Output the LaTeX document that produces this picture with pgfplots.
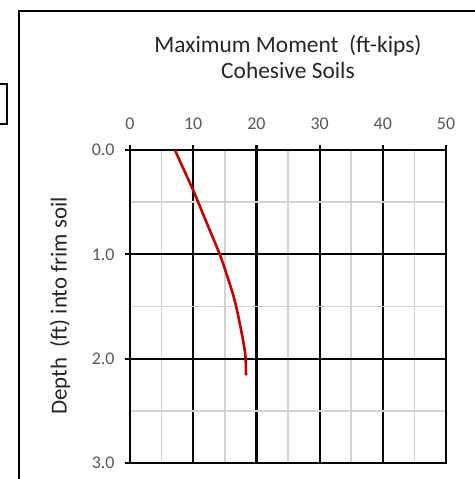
\documentclass[border=0pt]{standalone}
\usepackage{pgfplots}
\pgfplotsset{compat=1.18}
\usepackage{fontspec}
\setmainfont{Carlito}
\definecolor{momentred}{RGB}{192,0,0}
\definecolor{ticktext}{RGB}{89,89,89}
\definecolor{minorgrid}{RGB}{210,210,210}

\begin{document}
\begin{tikzpicture}
\clip (0,0) rectangle (475bp,479bp);
% chart frame (cropped) and leftover box at far left
\draw[line width=2bp] (19bp,-20bp) |- (520bp,468bp);
\draw[line width=2.5bp] (-10bp,355bp) rectangle (7bp,395bp);

\node[align=center, font=\fontsize{23.5}{27}\selectfont, text=black!85]
  at (288bp,422bp) {Maximum Moment\ \ (ft-kips)\\Cohesive Soils};
\node[rotate=90, font=\fontsize{23}{27}\selectfont, text=black!85]
  at (60bp,173bp) {Depth\ \ (ft) into frim soil};

\begin{axis}[
    at={(130bp,16bp)}, anchor=south west,
    scale only axis, width=316bp, height=313bp,
    xmin=0, xmax=50, ymin=0, ymax=3,
    y dir=reverse,
    xtick={0,10,...,50}, minor xtick={5,15,...,45},
    ytick={0,1,2,3}, minor ytick={0.5,1.5,2.5},
    xtick pos=right, ytick pos=left,
    xticklabel pos=right,
    tick align=outside,
    major tick length=5bp, minor tick length=0pt,
    major tick style={line width=2.2bp, black},
    grid=both,
    major grid style={line width=2.2bp, black},
    minor grid style={line width=1.5bp, minorgrid},
    axis line style={line width=2.2bp, black},
    ticklabel style={font=\fontsize{18}{20}\selectfont, text=ticktext},
    /pgf/number format/assume math mode=true,
    xticklabel shift=12bp, yticklabel shift=7bp,
    yticklabel={\pgfmathprintnumber[fixed, fixed zerofill, precision=1]{\tick}},
]
\addplot[momentred, line width=2.6bp, smooth, tension=0.5] coordinates {
    (7.1,0.0) (8.6,0.2) (10.1,0.4) (11.8,0.65) (14.2,1.0)
    (15.6,1.25) (16.6,1.45) (17.5,1.7) (18.1,1.9) (18.3,2.0) (18.35,2.16)
};
\end{axis}
\end{tikzpicture}
\end{document}
